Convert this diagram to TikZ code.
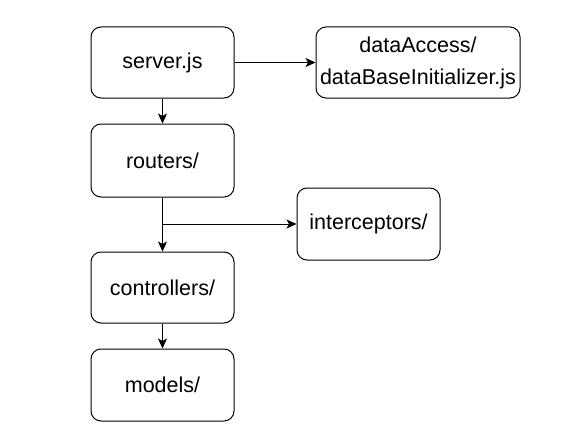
\documentclass[tikz,border=0pt]{standalone}
\usepackage{fontspec}
\setmainfont{Liberation Sans}
\usetikzlibrary{arrows.meta}
\tikzset{
  folder/.style={draw,rounded corners=10pt,minimum width=143pt,minimum height=71pt,inner sep=0pt,align=center,font=\fontsize{21.5}{32}\selectfont},
}
\begin{document}
\begin{tikzpicture}[x=1pt,y=-1pt,>={Stealth[length=10pt,width=9pt,inset=2.5pt]},line width=1pt]
\useasboundingbox (0,0) rectangle (570,444);
\node[folder] (server) at (162.5,62.5) {server.js};
\node[folder,minimum width=204pt] (data) at (418,62.5) {dataAccess/\\dataBaseInitializer.js};
\node[folder,minimum height=73pt] (routers) at (162.5,160.5) {routers/};
\node[folder,minimum height=72pt] (inter) at (368.5,224) {interceptors/};
\node[folder] (ctrl) at (162.5,287.5) {controllers/};
\node[folder,minimum height=72pt] (models) at (162.5,385) {models/};
\draw[->] (server.east) -- (data.west);
\draw[->] (server.south) -- (routers.north);
\draw[->] (routers.south) -- (ctrl.north);
\coordinate (branch) at (routers.south |- inter.west);
\draw[->] (branch) -- (inter.west);
\draw[->] (ctrl.south) -- (models.north);
\end{tikzpicture}
\end{document}
